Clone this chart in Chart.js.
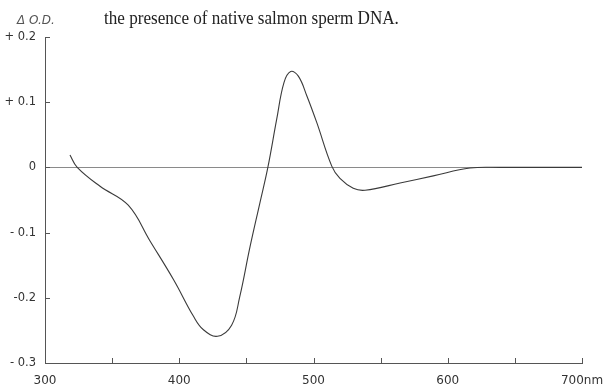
<!DOCTYPE html>
<html>
<head>
<meta charset="utf-8">
<script src="https://cdn.jsdelivr.net/npm/chart.js@4"></script>
<style>
  html, body { margin: 0; padding: 0; background: #fff; }
  #wrap { position: relative; width: 615px; height: 384px; }
  #od { position: absolute; left: 17px; top: 13px; font: italic 12px "DejaVu Sans", sans-serif; color: #555; }
  #ttl { position: absolute; left: 104px; top: 8px; font: 18px "Liberation Serif", serif; color: #222; white-space: nowrap; transform: scaleX(0.95); transform-origin: left; }
</style>
</head>
<body>
<div id="wrap">
  <canvas id="c" width="615" height="384"></canvas>
  <div id="od">Δ O.D.</div>
  <div id="ttl">the presence of native salmon sperm DNA.</div>
</div>
<script>
// wavelength (nm) and difference absorbance
const wavelengths = [318.6, 324, 341, 362, 378, 396, 410.5, 418, 428.5, 439, 445, 452.7, 460, 466, 472.6, 478, 483, 488.7, 495, 502.4, 513.6, 519.7, 529.6, 538.4, 564.5, 589.2, 616.6, 640, 670, 700];
const deltaOD = [0.019, 0, -0.029, -0.058, -0.112, -0.173, -0.228, -0.249, -0.259, -0.242, -0.199, -0.122, -0.055, 0, 0.074, 0.130, 0.147, 0.140, 0.110, 0.069, 0.002, -0.017, -0.032, -0.035, -0.024, -0.013, -0.001, 0, 0, 0];
const yTicks = { '0.2': '+ 0.2', '0.1': '+ 0.1', '0': '0', '-0.1': '- 0.1', '-0.2': '-0.2', '-0.3': '- 0.3' };
const xTickLabels = { 300: '300', 400: '400', 500: '500', 600: '600', 700: '700nm' };

// small inward tick marks on both axes
const innerTicks = {
    id: 'innerTicks',
    afterDraw(chart) {
        const ctx = chart.ctx, x = chart.scales.x, y = chart.scales.y;
        ctx.save();
        ctx.strokeStyle = '#555';
        ctx.lineWidth = 1;
        ctx.beginPath();
        for (let v = 350; v <= 700; v += 50) {
            const px = Math.round(x.getPixelForValue(v)) + 0.5;
            ctx.moveTo(px, y.bottom);
            ctx.lineTo(px, y.bottom - 5);
        }
        for (let v = -2; v <= 2; v++) {
            const py = Math.round(y.getPixelForValue(v / 10)) + 0.5;
            ctx.moveTo(x.left, py);
            ctx.lineTo(x.left + 5, py);
        }
        ctx.stroke();
        ctx.restore();
    }
};

new Chart(document.getElementById('c'), {
    type: 'scatter',
    data: {
        datasets: [{
            data: wavelengths.map((w, i) => ({ x: w, y: deltaOD[i] })),
            showLine: true,
            borderColor: '#3a3a3a',
            borderWidth: 1.1,
            pointRadius: 0,
            tension: 0.4
        }]
    },
    options: {
        responsive: false,
        animation: false,
        layout: { padding: { top: 37, right: 33, left: 0, bottom: 0 } },
        plugins: { legend: { display: false }, tooltip: { enabled: false } },
        scales: {
            x: {
                type: 'linear', min: 300, max: 700,
                afterFit: s => { s.height = 21; },
                border: { color: '#555', width: 1 },
                grid: { display: false },
                ticks: {
                    stepSize: 100, maxRotation: 0, padding: 3, color: '#333',
                    font: { family: 'DejaVu Sans', size: 12 },
                    callback: v => xTickLabels[v] || ''
                }
            },
            y: {
                min: -0.3, max: 0.2,
                afterFit: s => { s.width = 45; },
                border: { color: '#555', width: 1 },
                grid: {
                    drawTicks: false,
                    color: ctx => Math.abs(ctx.tick.value) < 1e-9 ? '#8a8a8a' : 'rgba(0,0,0,0)',
                    lineWidth: 1
                },
                ticks: {
                    stepSize: 0.1, padding: 9, color: '#333',
                    font: { family: 'DejaVu Sans', size: 11.5 },
                    callback: v => yTicks[String(Math.round(v * 10) / 10)] || ''
                }
            }
        }
    },
    plugins: [innerTicks]
});
</script>
</body>
</html>
